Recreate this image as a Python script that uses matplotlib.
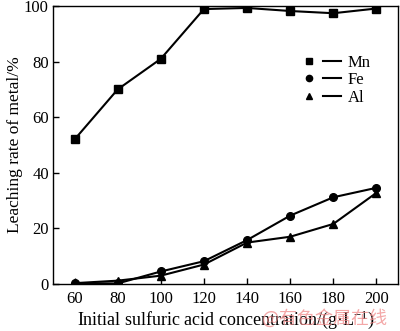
import matplotlib
matplotlib.use("Agg")
import matplotlib.pyplot as plt
from matplotlib.lines import Line2D
from matplotlib.legend_handler import HandlerTuple

plt.rcParams['font.family'] = ['Liberation Serif', 'DejaVu Serif']
plt.rcParams['mathtext.fontset'] = 'custom'
plt.rcParams['mathtext.rm'] = 'Liberation Serif'
plt.rcParams['mathtext.it'] = 'Liberation Serif:italic'

concentration = [60, 80, 100, 120, 140, 160, 180, 200]
mn = [52.0, 70.0, 81.0, 98.9, 99.3, 98.2, 97.4, 99.1]
fe = [0.3, 0.2, 4.5, 8.2, 15.8, 24.6, 31.2, 34.6]
al = [0.3, 1.2, 3.0, 7.0, 14.9, 17.0, 21.6, 32.8]
metals = ['Mn', 'Fe', 'Al']
x_ticks = [60, 80, 100, 120, 140, 160, 180, 200]
y_ticks = [0, 20, 40, 60, 80, 100]

fig = plt.figure(figsize=(4.0, 3.31), dpi=100)
ax = fig.add_axes([53/400, 1 - 284/331, (398 - 53)/400, (284 - 6)/331])

markers = ['s', 'o', '^']
handles = []
for series, mk in zip([mn, fe, al], markers):
    ax.plot(concentration, series, color='black', lw=1.5, marker=mk, ms=5.5)
    handles.append((Line2D([], [], color='black', ls='none', marker=mk, ms=4.5),
                    Line2D([], [], color='black', lw=1.5)))

ax.set_xlim(50, 210)
ax.set_ylim(0, 100)
ax.set_xticks(x_ticks)
ax.set_yticks(y_ticks)
ax.tick_params(direction='in', length=4, width=1, labelsize=12, pad=3)
ax.tick_params(axis='x', pad=5)
for s in ax.spines.values():
    s.set_linewidth(1.0)

ax.set_xlabel('Initial sulfuric acid concentration/(g·L$^{-1}$)', fontsize=13, labelpad=1)
ax.set_ylabel('Leaching rate of metal/%', fontsize=12.5, labelpad=1)

ax.legend(handles, metals, loc='upper left', bbox_to_anchor=(0.69, 0.855), frameon=False,
          fontsize=12, handlelength=2.5, handletextpad=0.4, labelspacing=0.1,
          borderpad=0, handler_map={tuple: HandlerTuple(ndivide=2, pad=0.3)})

fig.text(0.655, 0.022, '@有色金属在线', color='#f08a8a', alpha=0.75, fontsize=13,
         family=['Noto Sans CJK SC', 'DejaVu Sans'])

fig.savefig('out.png', dpi=100)
